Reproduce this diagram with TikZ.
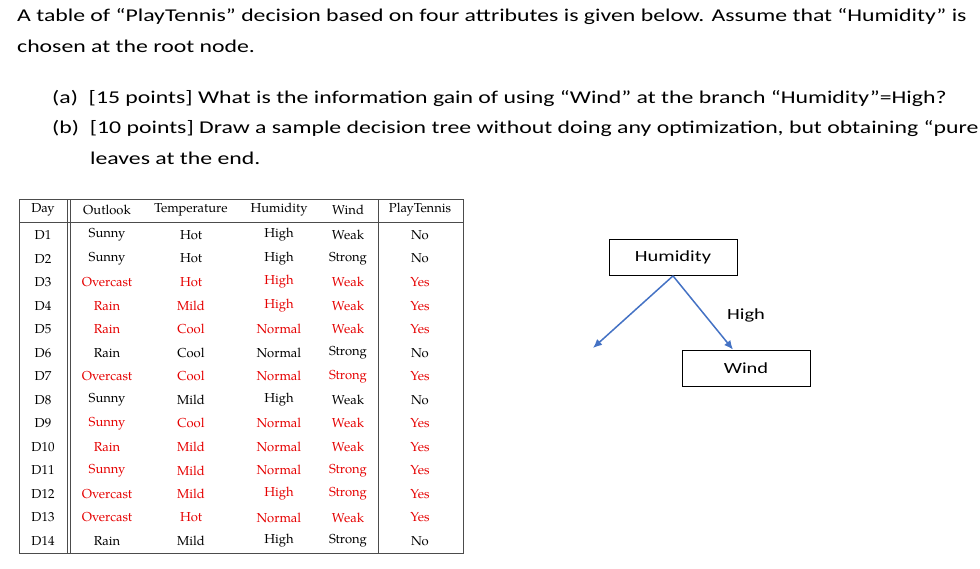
\documentclass[tikz,border=0pt]{standalone}
\usepackage{fontspec}
\usetikzlibrary{arrows.meta}
\setmainfont{Carlito}[FakeStretch=1.32]
\newfontfamily\tabfont{TeX Gyre Pagella}
\begin{document}
\begin{tikzpicture}[x=1pt,y=-1pt,
  txt/.style={anchor=west,inner sep=0pt,font=\fontsize{18}{20}\selectfont},
  cell/.style={inner sep=0pt,font=\tabfont\fontsize{13}{15}\selectfont},
  redcell/.style={cell,text=red!90!black},
  box/.style={draw,thick,minimum width=128pt,minimum height=36pt,font=\fontsize{15.5}{18}\selectfont},
  arr/.style={draw={rgb,255:red,68;green,114;blue,196},line width=1.5pt,-{Latex[length=9pt,width=8pt]}}]
\useasboundingbox (0,0) rectangle (980,568);
\node[txt] (t1) at (17,17) {A table of “PlayTennis” decision based on four attributes is given below. Assume that “Humidity” is};
\node[txt] (t2) at (17,46) {chosen at the root node.};
\node[txt] (t3) at (52,98) {(a)\ \ [15 points] What is the information gain of using “Wind” at the branch “Humidity”=High?};
\node[txt] (t4) at (52,128) {(b)\ \ [10 points] Draw a sample decision tree without doing any optimization, but obtaining “pure”};
\node[txt] (t5) at (90,158) {leaves at the end.};
% table
\draw[line width=0.9pt,black!70] (19,199) rectangle (463,553);
\draw[line width=0.9pt,black!70] (19,222) -- (463,222);
\draw[line width=0.7pt,black!70] (67,199) -- (67,553) (70.5,199) -- (70.5,553) (378,199) -- (378,553);
\node[cell] (h0) at (43,210) {Day};
\node[cell] (h1) at (107,210) {Outlook};
\node[cell] (h2) at (191,210) {Temperature};
\node[cell] (h3) at (279,210) {Humidity};
\node[cell] (h4) at (348,210) {Wind};
\node[cell] (h5) at (420,210) {PlayTennis};
\foreach \i/\o/\t/\h/\w/\p/\s in {
 1/Sunny/Hot/High/Weak/No/cell,
 2/Sunny/Hot/High/Strong/No/cell,
 3/Overcast/Hot/High/Weak/Yes/redcell,
 4/Rain/Mild/High/Weak/Yes/redcell,
 5/Rain/Cool/Normal/Weak/Yes/redcell,
 6/Rain/Cool/Normal/Strong/No/cell,
 7/Overcast/Cool/Normal/Strong/Yes/redcell,
 8/Sunny/Mild/High/Weak/No/cell,
 9/Sunny/Cool/Normal/Weak/Yes/redcell,
 10/Rain/Mild/Normal/Weak/Yes/redcell,
 11/Sunny/Mild/Normal/Strong/Yes/redcell,
 12/Overcast/Mild/High/Strong/Yes/redcell,
 13/Overcast/Hot/Normal/Weak/Yes/redcell,
 14/Rain/Mild/High/Strong/No/cell}{
 \pgfmathsetmacro\yy{235+(\i-1)*23.54}
 \node[cell] (d\i) at (43,\yy) {D\i};
 \node[\s] (o\i) at (107,\yy) {\o};
 \node[\s] (te\i) at (191,\yy) {\t};
 \node[\s] (hu\i) at (279,\yy) {\h};
 \node[\s] (w\i) at (348,\yy) {\w};
 \node[\s] (p\i) at (420,\yy) {\p};
}
% tree
\node[box] (hum) at (673,257.5) {Humidity};
\node[box] (wind) at (746,368) {Wind};
\coordinate (left) at (593,348);
\draw[arr] (hum.south) -- (left);
\draw[arr] (hum.south) -- (wind.north -| 733,0);
\node[font=\fontsize{15.5}{18}\selectfont] (high) at (746,315) {High};
\end{tikzpicture}
\end{document}
